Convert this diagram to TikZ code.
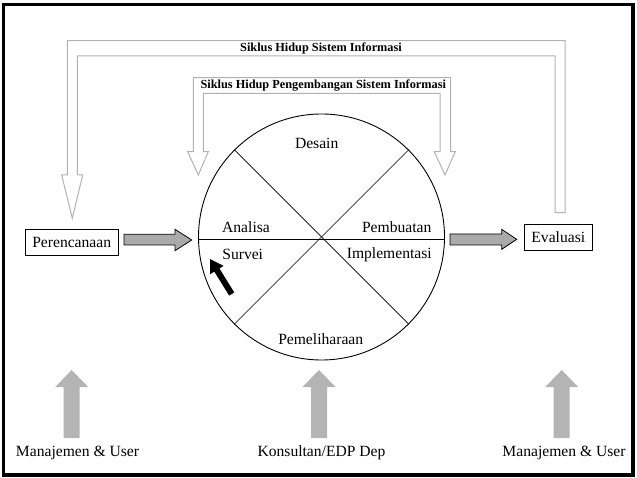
\documentclass[tikz,border=0pt]{standalone}
\usepackage{fontspec}
\setmainfont{Liberation Serif}
\usetikzlibrary{arrows.meta}
\definecolor{hollow}{RGB}{178,178,178}
\definecolor{blockfill}{RGB}{170,170,170}
\definecolor{upfill}{RGB}{180,180,180}
\begin{document}
\begin{tikzpicture}[x=1pt,y=-1pt,
  lbl/.style={font=\fontsize{15.6}{18}\selectfont, inner sep=0pt},
  ttl/.style={font=\fontsize{12.3}{14}\selectfont\bfseries, inner sep=0pt},
  box/.style={draw, line width=1pt, minimum height=26.3pt, inner sep=0pt,
    font=\fontsize{15.6}{18}\selectfont},
  hollowarrow/.style={draw=hollow, line width=1pt, line join=miter},
  sidearrow/.style={fill=blockfill, draw=black, line width=0.8pt},
  uparrow/.style={fill=upfill},
  ]
\useasboundingbox (0,0) rectangle (637,478);
\draw[line width=3.5pt] (3.5,4.5) rectangle (633,475);

% hollow connectors
\draw[hollowarrow] (72.3,218.3) -- (82.7,175) -- (77.3,175) -- (77.3,56) -- (555,56)
  -- (555,212.7) -- (565,212.7) -- (565,40.7) -- (67.3,40.7) -- (67.3,175) -- (61.7,175) -- cycle;
\draw[hollowarrow] (198.3,175) -- (208.3,151.7) -- (203.3,151.7) -- (203.3,93.3) -- (440,93.3)
  -- (440,151.7) -- (434.3,151.7) -- (445,175) -- (455.3,151.7) -- (450.7,151.7) -- (450.7,77.7)
  -- (193.3,77.7) -- (193.3,151.7) -- (187.7,151.7) -- cycle;
\node[ttl] (t1) at (321,48) {Siklus Hidup Sistem Informasi};
\node[ttl] (t2) at (323.3,86) {Siklus Hidup Pengembangan Sistem Informasi};

% circle
\node[circle, draw, line width=0.9pt, minimum size=246pt, inner sep=0pt] (c) at (321.5,237) {};
\draw[line width=0.7pt] (c.135) -- (c.-45);
\draw[line width=0.7pt] (c.45) -- (c.225);
\draw[line width=1pt] (c.181.3) -- (c.-1.3);

\node[lbl] (desain) at (316.7,143.3) {Desain};
\node[lbl] (analisa) at (246,226.7) {Analisa};
\node[lbl] (pembuatan) at (396.7,226.7) {Pembuatan};
\node[lbl] (survei) at (242.7,254) {Survei};
\node[lbl] (impl) at (389.3,255) {Implementasi};
\node[lbl] (pemel) at (320.7,339) {Pemeliharaan};

\draw[line width=6pt, -{Triangle[length=13pt,width=15pt]}] (231.7,294) -- (210,259);

% boxes
\node[box, minimum width=93.3pt] (per) at (71.7,242.2) {Perencanaan};
\node[box, minimum width=68pt] (eva) at (558.3,237.5) {Evaluasi};

\draw[sidearrow] (124,234.3) -- (175,234.3) -- (175,229.3) -- (191.7,240) -- (175,250.7) -- (175,245) -- (124,245) -- cycle;
\draw[sidearrow] (450,234) -- (501.7,234) -- (501.7,229.3) -- (516.7,239.3) -- (501.7,249.3) -- (501.7,245) -- (450,245) -- cycle;

% bottom arrows
\foreach \cx in {71.7,319,561.7}
  \fill[uparrow] ({\cx-8},438) -- ({\cx-8},387) -- ({\cx-16.5},387) -- (\cx,370)
    -- ({\cx+16.5},387) -- ({\cx+8},387) -- ({\cx+8},438) -- cycle;

\node[lbl] (mu1) at (77.5,453) {Manajemen \& User};
\node[lbl] (kon) at (321.5,453) {Konsultan/EDP Dep};
\node[lbl] (mu2) at (564,453) {Manajemen \& User};
\end{tikzpicture}
\end{document}
